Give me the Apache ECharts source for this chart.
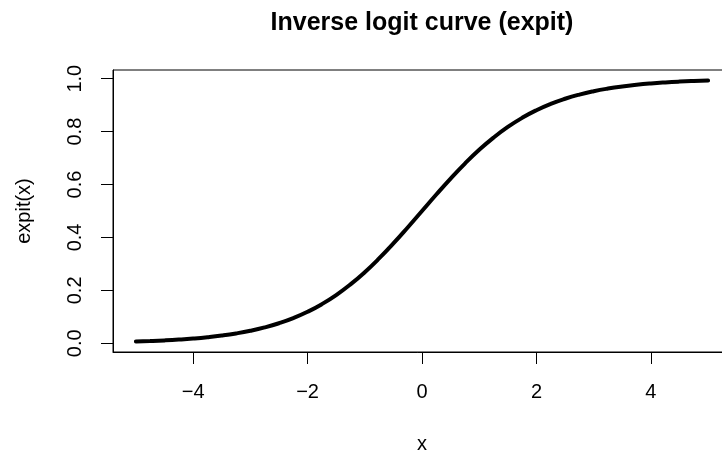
<!DOCTYPE html>
<html>
<head>
<meta charset="utf-8">
<script src="https://cdn.jsdelivr.net/npm/echarts@6/dist/echarts.min.js"></script>
<style>
  html, body { margin: 0; padding: 0; background: #fff; }
  #chart { width: 722px; height: 453px; }
</style>
</head>
<body>
<div id="chart"></div>
<script>
// Sampled inverse logit curve: x positions and expit(x) values
const xValues = [-5, -4.75, -4.5, -4.25, -4, -3.75, -3.5, -3.25, -3, -2.75, -2.5, -2.25, -2, -1.75, -1.5, -1.25, -1, -0.75, -0.5, -0.25,
  0, 0.25, 0.5, 0.75, 1, 1.25, 1.5, 1.75, 2, 2.25, 2.5, 2.75, 3, 3.25, 3.5, 3.75, 4, 4.25, 4.5, 4.75, 5];
const yValues = [0.0067, 0.0086, 0.0110, 0.0141, 0.0180, 0.0230, 0.0293, 0.0373, 0.0474, 0.0601, 0.0759, 0.0953, 0.1192, 0.1480, 0.1824, 0.2227, 0.2689, 0.3208, 0.3775, 0.4378,
  0.5, 0.5622, 0.6225, 0.6792, 0.7311, 0.7773, 0.8176, 0.8520, 0.8808, 0.9047, 0.9241, 0.9399, 0.9526, 0.9627, 0.9707, 0.9770, 0.9820, 0.9859, 0.9890, 0.9914, 0.9933];

// Tick positions on each axis
const xTicks = [-4, -2, 0, 2, 4];
const yTicks = [0, 0.2, 0.4, 0.6, 0.8, 1.0];

const points = xValues.map((x, i) => [x, yValues[i]]);

const font = '"Liberation Sans", Arial, Helvetica, sans-serif';
const chart = echarts.init(document.getElementById('chart'), null, { renderer: 'canvas' });

chart.setOption({
  animation: false,
  backgroundColor: '#fff',
  title: {
    text: 'Inverse logit curve (expit)',
    left: 417,
    top: 6,
    textAlign: 'center',
    textStyle: { fontFamily: font, fontWeight: 'bold', fontSize: 25, color: '#000' }
  },
  // plot region runs past the right edge of the canvas
  grid: {
    left: 113, top: 70, width: 618, height: 282,
    outerBoundsMode: 'none',
    show: true, borderColor: '#000', borderWidth: 1, backgroundColor: 'transparent'
  },
  xAxis: {
    type: 'value',
    min: -5.4, max: 5.4,
    name: 'x',
    nameLocation: 'middle',
    nameGap: 82,
    nameTextStyle: { fontFamily: font, fontSize: 20, color: '#000' },
    splitLine: { show: false },
    axisLine: { show: true, onZero: false, lineStyle: { color: '#000', width: 1 } },
    axisTick: { show: true, inside: false, length: 12, customValues: xTicks, lineStyle: { color: '#000', width: 1 } },
    axisLabel: {
      customValues: xTicks, margin: 30,
      fontFamily: font, fontSize: 20, color: '#000',
      formatter: v => (v < 0 ? '\u2212' + Math.abs(v) : String(v))
    }
  },
  yAxis: {
    type: 'value',
    min: -0.0328, max: 1.0328,
    name: 'expit(x)',
    nameLocation: 'middle',
    nameGap: 79,
    nameTextStyle: { fontFamily: font, fontSize: 20, color: '#000' },
    splitLine: { show: false },
    axisLine: { show: true, onZero: false, lineStyle: { color: '#000', width: 1 } },
    axisTick: { show: true, inside: false, length: 12, customValues: yTicks, lineStyle: { color: '#000', width: 1 } },
    axisLabel: {
      customValues: yTicks, margin: 28, rotate: 90,
      fontFamily: font, fontSize: 20, color: '#000',
      formatter: v => v.toFixed(1)
    }
  },
  series: [{
    type: 'line',
    data: points,
    smooth: true,
    showSymbol: false,
    lineStyle: { color: '#000', width: 4, cap: 'round' }
  }]
});
</script>
</body>
</html>
